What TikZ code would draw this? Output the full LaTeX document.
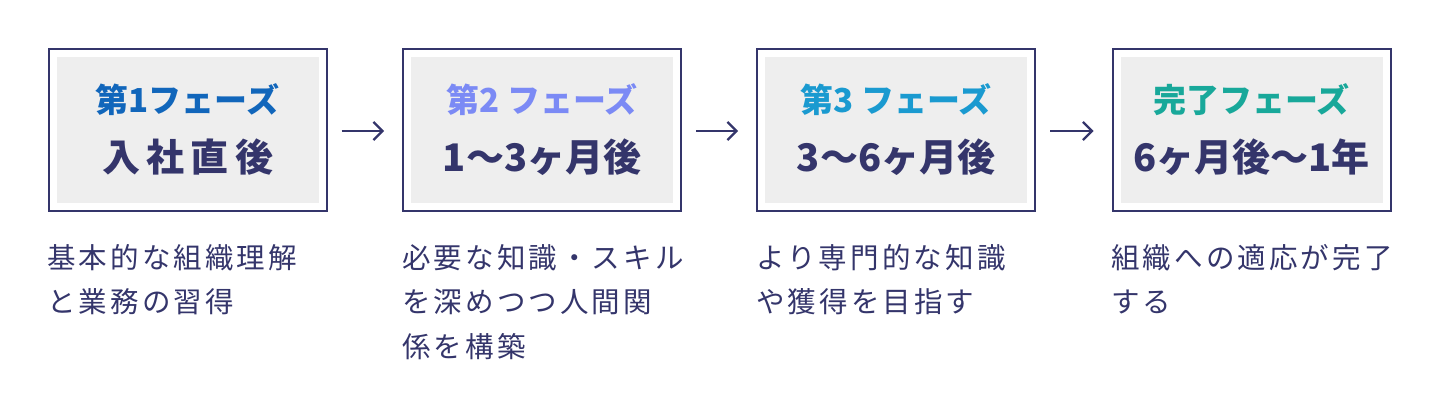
\documentclass[tikz,border=0pt]{standalone}
\usepackage{fontspec}
\setmainfont{Noto Sans CJK JP}
\newfontfamily\descfont[LetterSpace=11]{Noto Sans CJK JP}
\usetikzlibrary{positioning,arrows.meta}
\definecolor{navy}{HTML}{34356B}
\definecolor{panelgray}{HTML}{EEEEEE}
\definecolor{phaseA}{HTML}{1166BB}
\definecolor{phaseB}{HTML}{7B8AF5}
\definecolor{phaseC}{HTML}{1A9AD0}
\definecolor{phaseD}{HTML}{18A89A}
\tikzset{
  phasebox/.style={draw=navy,line width=2pt,fill=white,minimum width=278pt,minimum height=162pt,inner sep=0pt},
  innerbox/.style={fill=panelgray,minimum width=262pt,minimum height=146pt,inner sep=0pt},
  phasetitle/.style={font=\fontsize{33}{37}\selectfont\bfseries},
  phasetime/.style={text=navy,font=\fontsize{38}{42}\selectfont\bfseries},
  desc/.style={text=navy,anchor=north west,align=left,inner sep=0pt,font=\descfont\fontsize{28.5}{44.5}\selectfont},
  flow/.style={-{Straight Barb[length=9pt,width=18pt,line width=2.2pt]},navy,line width=2.2pt}
}
\begin{document}
\begin{tikzpicture}[x=1pt,y=1pt]
\useasboundingbox (0,0) rectangle (1440,420);
% boxes
\node[phasebox] (b1) at (187.5,290) {};
\node[phasebox] (b2) at (542,290) {};
\node[phasebox] (b3) at (896,290) {};
\node[phasebox] (b4) at (1251.5,290) {};
\foreach \b in {b1,b2,b3,b4}
  \node[innerbox] at (\b) {};
% titles
\node[phasetitle,text=phaseA] (t1) at (187.5,320) {第1フェーズ};
\node[phasetitle,text=phaseB] (t2) at (542,320) {第2 フェーズ};
\node[phasetitle,text=phaseC] (t3) at (896,320) {第3 フェーズ};
\node[phasetitle,text=phaseD] (t4) at (1251.5,320) {完了フェーズ};
\node[phasetime] (p1) at (187.5,263) {入\,社\,直\,後};
\node[phasetime] (p2) at (542,263) {1〜3ヶ月後};
\node[phasetime] (p3) at (896,263) {3〜6ヶ月後};
\node[phasetime] (p4) at (1251.5,263) {6ヶ月後〜1年};
% arrows
\draw[flow] ([xshift=14pt,yshift=-1pt]b1.east) -- ([xshift=-18pt,yshift=-1pt]b2.west);
\draw[flow] ([xshift=14pt,yshift=-1pt]b2.east) -- ([xshift=-18pt,yshift=-1pt]b3.west);
\draw[flow] ([xshift=14pt,yshift=-1pt]b3.east) -- ([xshift=-18pt,yshift=-1pt]b4.west);
% descriptions
\node[desc] (d1) at (47,176) {基本的な組織理解\\と業務の習得};
\node[desc] (d2) at (402,176) {必要な知識・スキル\\を深めつつ人間関\\係を構築};
\node[desc] (d3) at (756,176) {より専門的な知識\\や獲得を目指す};
\node[desc] (d4) at (1111,176) {組織への適応が完了\\する};
\end{tikzpicture}
\end{document}
